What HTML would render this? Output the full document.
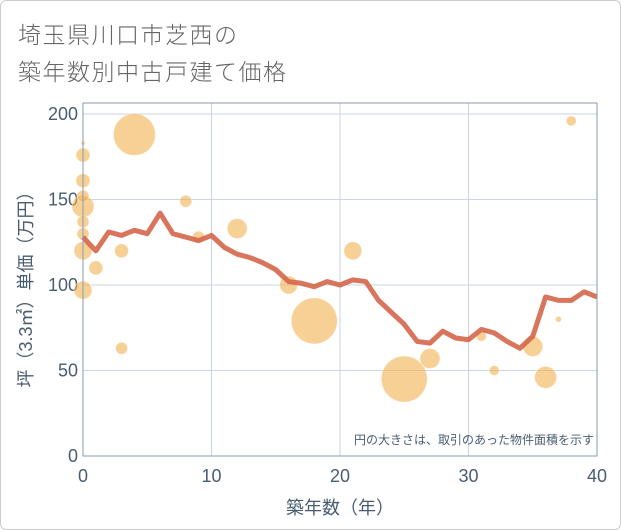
<!DOCTYPE html>
<html><head><meta charset="utf-8"><style>
body{margin:0;background:#fff;}
#wrap{position:relative;width:619px;height:528px;border:1px solid #ccc;border-radius:6px;background:#fff;overflow:hidden;font-family:"Liberation Sans","Noto Sans CJK JP",sans-serif;}
.t{position:absolute;left:17px;font-size:23px;color:#666;letter-spacing:1.5px;white-space:nowrap;font-weight:300;}
</style></head><body>
<div id="wrap">
<div class="t" style="top:15px">埼玉県川口市芝西の</div>
<div class="t" style="top:52px">築年数別中古戸建て価格</div>
<svg id="chart" width="621" height="530" style="position:absolute;left:-1px;top:-1px"></svg>
</div>
<script>
const years=[0,1,2,3,4,5,6,7,8,9,10,11,12,13,14,15,16,17,18,19,20,21,22,23,24,25,26,27,28,29,30,31,32,33,34,35,36,37,38,39,40];
const avgPrice=[128,120,131,129,132,130,142,130,128,126,129,122,118,116,113,109,102,101,99,102,100,103,102,91,84,77,67,66,73,69,68,74,72,67,63,70,93,91,91,96,93];
const bubbleYears=[4,0,0,0,0,0,0,0,0,0,1,3,3,8,9,12,16,18,21,25,27,31,32,35,36,37,38];
const bubblePrices=[188,176,161,146,97,120,183,137,130,152,110,120,63,149,128,133,100,79,120,45,57,70,50,64,46,80,196];
const bubbleSizes=[21,7,7,11,9,9,2,6,6,6,7,7,6,6,6,10,9,23,9,23,10,5,5,10,11,3,5];
const xTicks=[0,10,20,30,40];
const yTicks=[0,50,100,150,200];
const X0=83,X1=597,Y0=456,YT=114,L=83,T=103,R=597,B=456;
const xs=v=>X0+(X1-X0)*v/40;
const ys=v=>Y0-(Y0-YT)*v/200;
const svg=document.getElementById('chart');
const NS='http://www.w3.org/2000/svg';
function mk(tag,a){const e=document.createElementNS(NS,tag);for(const k in a)e.setAttribute(k,a[k]);svg.appendChild(e);return e;}
let e=mk('rect',{x:L,y:T,width:R-L,height:B-T,fill:'#fff'});


xTicks.forEach(v=>{
 const g=mk('line',{x1:xs(v),x2:xs(v),y1:T,y2:B,stroke:'#c8d6e5','stroke-width':1});
 
 
 const t=mk('text',{x:xs(v),y:482,'text-anchor':'middle','font-size':18,fill:'#4a5d70'});t.textContent=v;
 
 
});
yTicks.forEach(v=>{
 const g=mk('line',{x1:L,x2:R,y1:ys(v),y2:ys(v),stroke:'#c8d6e5','stroke-width':1});
 
 
 const t=mk('text',{x:78,y:ys(v)+6,'text-anchor':'end','font-size':18,fill:'#4a5d70'});t.textContent=v;
 
 
});
bubbleYears.forEach((yr,i)=>{
 const c=mk('circle',{cx:xs(yr),cy:ys(bubblePrices[i]),r:bubbleSizes[i],fill:'#f2b04f','fill-opacity':0.6,stroke:'#fff','stroke-opacity':0.4});
 
 
});
const pts=years.map((y,i)=>xs(y)+','+ys(avgPrice[i])).join(' ');
const pl=mk('polyline',{points:pts,fill:'none',stroke:'#d4664a','stroke-width':5,'stroke-linejoin':'round','stroke-opacity':0.9});


const fr=mk('rect',{x:L,y:T,width:R-L,height:B-T,fill:'none',stroke:'#8a9aab','stroke-width':1});


const note=mk('text',{x:594,y:444,'text-anchor':'end','font-size':12,fill:'#4a5d70'});note.textContent='円の大きさは、取引のあった物件面積を示す';


const xt=mk('text',{x:340,y:514,'text-anchor':'middle','font-size':18,fill:'#4a5d70'});xt.textContent='築年数（年）';


const yt=mk('text',{x:0,y:0,'text-anchor':'middle','font-size':18,fill:'#4a5d70',transform:'translate(32,285) rotate(-90)'});yt.textContent='坪（3.3㎡）単価（万円）';


</script>
</body></html>
